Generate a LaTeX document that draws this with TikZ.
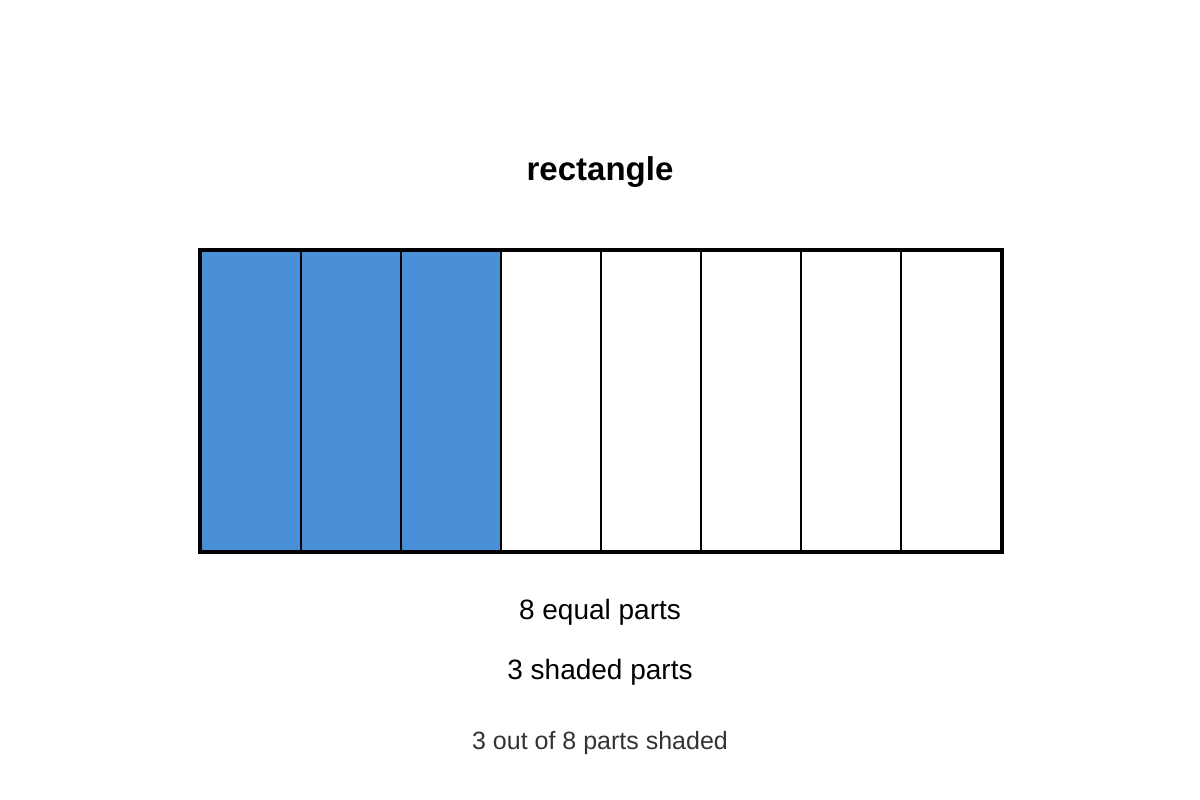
\documentclass[tikz,border=0pt]{standalone}
\usepackage{fontspec}
\setmainfont{Liberation Sans}
\definecolor{shade}{HTML}{4A90D9}
\definecolor{note}{HTML}{333333}
\begin{document}
\begin{tikzpicture}[x=1pt,y=-1pt,
  cell/.style={draw=black,line width=2pt,minimum width=100pt,minimum height=300pt,inner sep=0pt,anchor=north west},
  lbl/.style={font=\fontsize{28}{34}\selectfont,anchor=base}]
\useasboundingbox (0,0) rectangle (1200,800);
\node[font=\bfseries\fontsize{33}{40}\selectfont,anchor=base] (title) at (600,180) {rectangle};
\foreach \i in {0,...,7}{
  \ifnum\i<3
    \node[cell,fill=shade] (c\i) at (200+\i*100,250) {};
  \else
    \node[cell,fill=white] (c\i) at (200+\i*100,250) {};
  \fi
}
\draw[line width=3.5pt] (c0.north west) rectangle (c7.south east);
\node[lbl] (eq) at (600,619) {8 equal parts};
\node[lbl] (sh) at (600,679) {3 shaded parts};
\node[font=\fontsize{25}{30}\selectfont,anchor=base,text=note] (sum) at (600,749) {3 out of 8 parts shaded};
\end{tikzpicture}
\end{document}
